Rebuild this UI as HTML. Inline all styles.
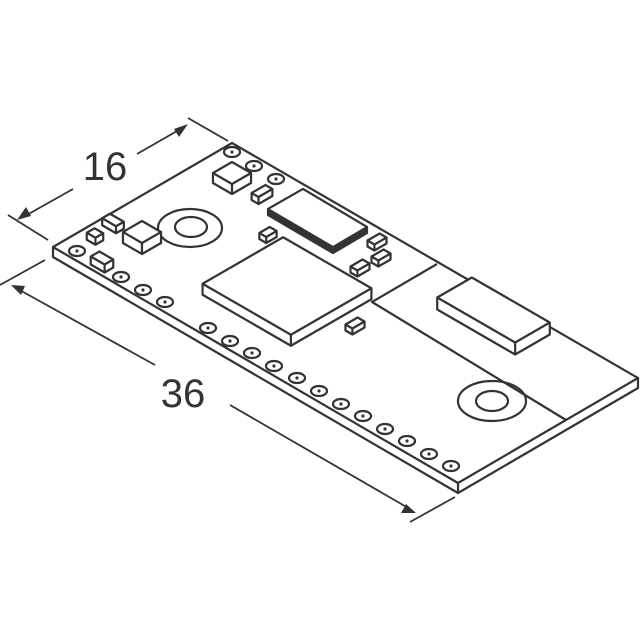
<!DOCTYPE html><html><head><style>body{margin:0;background:#fff}svg{display:block}</style></head><body>
<svg id="s" width="640" height="640" viewBox="0 0 640 640" xmlns="http://www.w3.org/2000/svg" font-family="Liberation Sans, sans-serif">
<g fill="none" stroke="#333" stroke-width="2.2" stroke-linejoin="round">
<polygon fill="#fff" points="53,247 232,143 638,378 638,388 458,493 53,257"/>
<polyline points="53,247 458,483 638,378"/>
<line x1="458" y1="483" x2="458" y2="493"/>
<polyline points="437,264 372,302 566,420"/>
<ellipse cx="492" cy="401" rx="34" ry="20"/><ellipse cx="492" cy="401" rx="16" ry="10"/>
<ellipse cx="190" cy="228" rx="32" ry="19"/>
<ellipse cx="191" cy="227" rx="16" ry="10"/>
</g>
<g id="c" fill="#fff" stroke="#333" stroke-width="2.2" stroke-linejoin="round"></g>
<g fill="none" stroke="#333" stroke-width="1.8">
<line x1="188" y1="118" x2="228" y2="141"/><line x1="8" y1="215" x2="48" y2="240"/>
<line x1="137" y1="154" x2="184" y2="127"/><line x1="25" y1="216" x2="73" y2="189"/>
<line x1="0" y1="285" x2="45" y2="260"/><line x1="410" y1="522" x2="455" y2="497"/>
<line x1="16" y1="288" x2="155" y2="365"/><line x1="230" y1="405" x2="410" y2="509"/>
</g>
<g fill="#333">
<polygon points="188,124 174,129 179,137"/><polygon points="17,220 31,216 26,207"/>
<polygon points="11,285 25,286 21,295"/><polygon points="416,513 401,513 406,504"/>
</g>
<text x="105" y="180" font-size="40" text-anchor="middle" fill="#333">16</text>
<text x="183" y="407" font-size="40" text-anchor="middle" fill="#333">36</text>
</svg>
<script>
var g=document.getElementById('c'),N='http://www.w3.org/2000/svg';
function el(t,a){var e=document.createElementNS(N,t);for(var k in a)e.setAttribute(k,a[k]);g.appendChild(e);return e}
function box(cx,cy,a,b,h,fill){var ux=.866,uy=.5,vx=.866,vy=-.5;
function p(s,t,z){return[cx+s*ux*a/2+t*vx*b/2,cy+s*uy*a/2+t*vy*b/2-z]}
var L=p(-1,-1,h),B=p(-1,1,h),R=p(1,1,h),F=p(1,-1,h),Rb=p(1,1,0),Fb=p(1,-1,0),Lb=p(-1,-1,0);
var f=fill||'#fff';
el('polygon',{points:[L,B,R,Rb,Fb,Lb].map(String).join(' '),fill:f});
el('polyline',{points:[L,F,R].map(String).join(' '),fill:'none'});
el('line',{x1:F[0],y1:F[1],x2:Fb[0],y2:Fb[1]});}
function pad(x,y){el('ellipse',{cx:x,cy:y,rx:8,ry:5});el('circle',{cx:x,cy:y,r:1.6,fill:'#333',stroke:'none'})}
[[77,251],[121,277],[143,290],[165,302],[208,328],[230,341],[252,353],[274,366],[297,378],[319,391],[341,404],[363,416],[385,429],[407,441],[429,454],[451,466],[232,152],[254,166],[276,179]].forEach(function(q){pad(q[0],q[1])});
box(232,183,22,22,10);box(262,198,8,16,7);box(142,243,22,22,11);box(113,227,16,9,7);box(95,240,10,9,7);box(102,266,16,10,8);
box(268,238,8,12,6);box(377,245,8,14,6);box(360,271,8,14,6);box(381,261,8,14,6);box(355,329,8,14,6);
// crystal
el('polygon',{points:'268,209 303,189 367,227 367,233 333,253 268,215',fill:'#333'});
el('polygon',{points:'268,209 303,189 367,227 333,247',fill:'#fff','stroke-width':'2'});
box(287,297,102,93,11);
box(493.5,322,90,40,12);
</script>
</body></html>
